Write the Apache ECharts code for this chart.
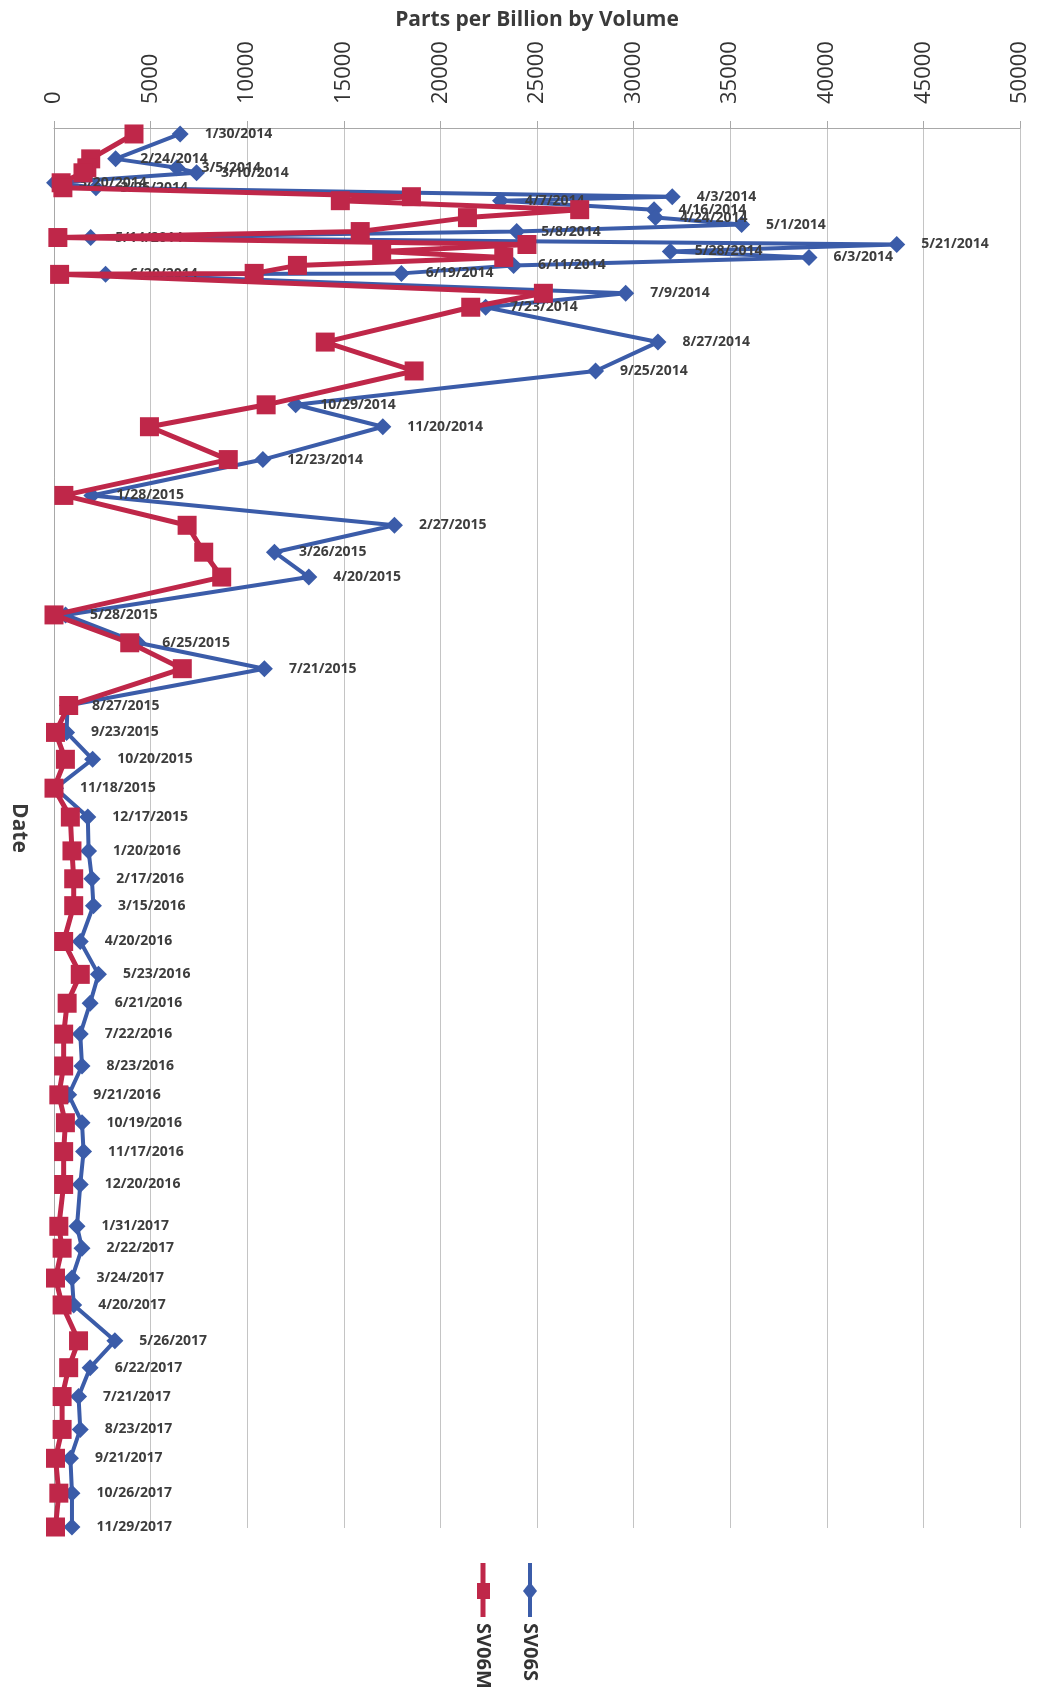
<!DOCTYPE html>
<html><head><meta charset="utf-8">
<script src="https://cdn.jsdelivr.net/npm/echarts@6/dist/echarts.min.js"></script>
<style>html,body{margin:0;padding:0;background:#fff}#c{width:1042px;height:1701px}</style>
</head><body><div id="c"></div>
<script>
const dates = ['1/30/2014','2/24/2014','3/5/2014','3/10/2014','3/20/2014','3/25/2014','4/3/2014','4/7/2014','4/16/2014','4/24/2014','5/1/2014','5/8/2014','5/14/2014','5/21/2014','5/28/2014','6/3/2014','6/11/2014','6/19/2014','6/20/2014','7/9/2014','7/23/2014','8/27/2014','9/25/2014','10/29/2014','11/20/2014','12/23/2014',
'1/28/2015','2/27/2015','3/26/2015','4/20/2015','5/28/2015','6/25/2015','7/21/2015','8/27/2015','9/23/2015','10/20/2015','11/18/2015','12/17/2015',
'1/20/2016','2/17/2016','3/15/2016','4/20/2016','5/23/2016','6/21/2016','7/22/2016','8/23/2016','9/21/2016','10/19/2016','11/17/2016','12/20/2016',
'1/31/2017','2/22/2017','3/24/2017','4/20/2017','5/26/2017','6/22/2017','7/21/2017','8/23/2017','9/21/2017','10/26/2017','11/29/2017'];

const sv06s = [6530,3190,6360,7380,30,2170,32000,23110,31060,31130,35590,23950,1900,43620,31900,39080,23790,17980,2670,29590,22340,31260,28030,12510,17020,10810,
1960,17620,11410,13190,600,4340,10890,700,650,2000,80,1750,
1790,1960,2040,1360,2300,1870,1360,1450,760,1450,1530,1360,
1190,1450,930,1020,3150,1870,1270,1360,850,930,930];

const sv06m = [4140,1900,1700,1500,370,460,18500,14820,27210,21400,null,15850,200,24480,16960,23280,12600,10360,290,25330,21570,14040,18640,10980,4940,9020,
510,6890,7750,8680,0,3920,6640,760,77,590,0,846,
930,1020,1020,500,1360,680,500,500,250,590,500,500,
250,420,77,420,1270,760,420,420,77,250,77];

const axisStart = '1/24/2014';
const axisEnd = '11/30/2017';

const BLUE = '#3b5ca9';
const RED = '#bf2749';

function parseDate(s){ const p = s.split('/').map(Number); return new Date(p[2], p[0]-1, p[1]).getTime(); }
const ts = dates.map(parseDate);
const blueData = ts.map((t,i)=>[sv06s[i], t, dates[i]]);
const redData = ts.map((t,i)=>[sv06m[i], t, dates[i]]).filter(d=>d[0]!==null);

const chart = echarts.init(document.getElementById('c'), null, {renderer:'canvas'});
chart.setOption({
  animation:false,
  backgroundColor:'#fff',
  grid:{left:45, right:22, top:128, bottom:173, containLabel:false},
  xAxis:{
    type:'value', position:'top', min:0, max:50000, interval:5000,
    axisLine:{show:true, lineStyle:{color:'#a8a8a8', width:1}},
    axisTick:{show:true, length:7, lineStyle:{color:'#a8a8a8'}},
    axisLabel:{rotate:-90, margin:24, fontSize:22, color:'#333', fontFamily:'Open Sans', formatter:v=>String(v)},
    splitLine:{show:true, lineStyle:{color:'#c4c4c4', width:1}},
    name:'Parts per Billion by Volume', nameLocation:'middle', nameGap:97,
    nameTextStyle:{fontSize:21, fontWeight:'bold', color:'#3a3a3a', fontFamily:'Open Sans'}
  },
  yAxis:{
    type:'time', inverse:true, min:parseDate(axisStart), max:parseDate(axisEnd),
    axisLabel:{show:false}, axisTick:{show:false}, splitLine:{show:false},
    axisLine:{show:true, onZero:false, lineStyle:{color:'#a8a8a8'}},
    name:'Date', nameLocation:'middle', nameRotate:-90, nameGap:25,
    nameTextStyle:{fontSize:21, fontWeight:'bold', color:'#3a3a3a', fontFamily:'Open Sans'}
  },
  series:[
    {name:'SV06S', type:'line', data:blueData, encode:{x:0,y:1},
     symbol:'diamond', symbolSize:17, z:2,
     lineStyle:{width:4, color:BLUE}, itemStyle:{color:BLUE},
     label:{show:true, position:'right', distance:16, formatter:p=>p.data[2],
            fontSize:14, fontWeight:'bold', color:'#3d3d3d', fontFamily:'Open Sans'}},
    {name:'SV06M', type:'line', data:redData, encode:{x:0,y:1},
     symbol:'rect', symbolSize:19, z:3,
     lineStyle:{width:5, color:RED}, itemStyle:{color:RED}}
  ],
  graphic:[
    {type:'line', shape:{x1:483,y1:1563,x2:483,y2:1617}, style:{stroke:RED, lineWidth:5}},
    {type:'rect', shape:{x:477,y:1583,width:13,height:16}, style:{fill:RED}},
    {type:'text', x:483, y:1623, rotation:-Math.PI/2,
     style:{text:'SV06M', x:0, y:0, align:'left', verticalAlign:'middle', font:'bold 20px "Open Sans"', fill:'#333'}},
    {type:'line', shape:{x1:530,y1:1563,x2:530,y2:1617}, style:{stroke:BLUE, lineWidth:4}},
    {type:'polygon', shape:{points:[[530,1582],[537,1591],[530,1600],[523,1591]]}, style:{fill:BLUE}},
    {type:'text', x:530, y:1623, rotation:-Math.PI/2,
     style:{text:'SV06S', x:0, y:0, align:'left', verticalAlign:'middle', font:'bold 20px "Open Sans"', fill:'#333'}}
  ]
});
</script></body></html>
